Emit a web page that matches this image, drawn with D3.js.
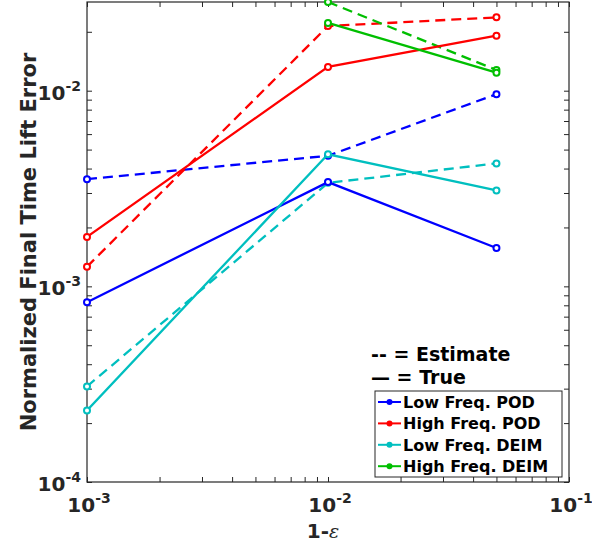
<!DOCTYPE html>
<html><head><meta charset="utf-8">
<script src="https://cdn.jsdelivr.net/npm/d3@7"></script>
<style>body{margin:0;background:#fff}svg{display:block}text{font-family:"DejaVu Sans",sans-serif}</style>
</head><body><svg id="c" width="592" height="546"></svg>
<script>
const xValues = [0.001, 0.01, 0.05];
const seriesNames = ["Low Freq. POD", "High Freq. POD", "Low Freq. DEIM", "High Freq. DEIM"];
const seriesColors = ["#0000ff", "#ff0000", "#00bfbf", "#00bf00"];
const trueValues = [
  [8.3e-4, 3.41e-3, 1.57e-3],
  [1.79e-3, 0.01323, 0.0191],
  [2.32e-4, 4.73e-3, 3.09e-3],
  [null, 0.0222, 0.01236]
];
const estimateValues = [
  [3.53e-3, 4.65e-3, 9.6e-3],
  [1.26e-3, 0.0214, 0.0237],
  [3.08e-4, 3.38e-3, 4.25e-3],
  [null, 0.0284, 0.01276]
];
const xTickExps = [-3, -2, -1];
const yTickExps = [-4, -3, -2];
const xDomain = [1e-3, 1e-1];
const yDomain = [1e-4, 0.0284];

const svg = d3.select("#c");
const L = 87, R = 569, T = 2, B = 482;
const x = d3.scaleLog().domain(xDomain).range([L, R]);
const y = d3.scaleLog().domain(yDomain).range([B, T]);
const axisColor = "#262626";

svg.append("defs").append("clipPath").attr("id", "clip")
  .append("rect").attr("x", L).attr("y", T).attr("width", R - L).attr("height", B - T);

function minorTicks(domain) {
  const out = [];
  const lo = Math.floor(Math.log10(domain[0])), hi = Math.ceil(Math.log10(domain[1]));
  for (let e = lo; e <= hi; e++) for (let m = 1; m <= 9; m++) {
    const v = m * Math.pow(10, e);
    if (v >= domain[0] * 0.9999 && v <= domain[1] * 1.0001) out.push(v);
  }
  return out;
}
const xt = minorTicks(xDomain), yt = minorTicks(yDomain);
const tickLen = 5;
const g = svg.append("g");
g.append("g").attr("transform", `translate(0,${B})`)
  .call(d3.axisBottom(x).tickValues(xt).tickSizeInner(-tickLen).tickSizeOuter(0).tickFormat(""));
g.append("g").attr("transform", `translate(0,${T})`)
  .call(d3.axisTop(x).tickValues(xt).tickSizeInner(-tickLen).tickSizeOuter(0).tickFormat(""));
g.append("g").attr("transform", `translate(${L},0)`)
  .call(d3.axisLeft(y).tickValues(yt).tickSizeInner(-tickLen).tickSizeOuter(0).tickFormat(""));
g.append("g").attr("transform", `translate(${R},0)`)
  .call(d3.axisRight(y).tickValues(yt).tickSizeInner(-tickLen).tickSizeOuter(0).tickFormat(""));
g.selectAll(".domain").remove();
g.selectAll("line").attr("stroke", axisColor).attr("stroke-width", 1);
svg.append("rect").attr("x", L).attr("y", T).attr("width", R - L).attr("height", B - T)
  .attr("fill", "none").attr("stroke", axisColor).attr("stroke-width", 1.2);

function powLabel(sel, e) {
  sel.append("tspan").text("10");
  sel.append("tspan").attr("dy", -9).attr("font-size", 14).text(String(e));
}
xTickExps.forEach(e => {
  const t = svg.append("text").attr("x", x(Math.pow(10, e)) + 2).attr("y", 512)
    .attr("text-anchor", "middle").attr("font-size", 20).attr("font-weight", "bold").attr("fill", axisColor);
  powLabel(t, e);
});
yTickExps.forEach(e => {
  const t = svg.append("text").attr("x", 81).attr("y", y(Math.pow(10, e)) + 9)
    .attr("text-anchor", "end").attr("font-size", 20).attr("font-weight", "bold").attr("fill", axisColor);
  powLabel(t, e);
});

svg.append("text").attr("transform", `translate(36,${(T + B) / 2}) rotate(-90)`)
  .attr("text-anchor", "middle").attr("font-size", 21).attr("font-weight", "bold").attr("fill", axisColor)
  .text("Normalized Final Time Lift Error");
const xl = svg.append("text").attr("x", 323).attr("y", 538).attr("text-anchor", "middle")
  .attr("font-size", 20).attr("fill", axisColor);
xl.append("tspan").attr("font-weight", "bold").text("1-");
xl.append("tspan").attr("font-style", "italic").attr("font-family", "DejaVu Serif").attr("font-size", 19).text("ε");

const plot = svg.append("g");
const line = d3.line().defined(d => d[1] != null).x(d => x(d[0])).y(d => y(d[1]));
function drawSeries(vals, color, dashed) {
  const pts = xValues.map((xv, i) => [xv, vals[i]]);
  plot.append("path").datum(pts).attr("d", line).attr("fill", "none").attr("stroke", color)
    .attr("clip-path", "url(#clip)")
    .attr("stroke-width", 2.3).attr("stroke-dasharray", dashed ? "10,6" : null);
  plot.selectAll(null).data(pts.filter(d => d[1] != null)).enter().append("circle")
    .attr("cx", d => x(d[0])).attr("cy", d => y(d[1])).attr("r", 3)
    .attr("fill", "#fff").attr("stroke", color).attr("stroke-width", 2);
}
seriesNames.forEach((n, i) => drawSeries(estimateValues[i], seriesColors[i], true));
seriesNames.forEach((n, i) => drawSeries(trueValues[i], seriesColors[i], false));

svg.append("text").attr("x", 371).attr("y", 361).attr("font-size", 19).attr("font-weight", "bold").attr("fill", "#000").text("-- = Estimate");
svg.append("text").attr("x", 371).attr("y", 384).attr("font-size", 19).attr("font-weight", "bold").attr("fill", "#000").text("\u2014 = True");

const lg = svg.append("g");
lg.append("rect").attr("x", 375).attr("y", 391).attr("width", 187).attr("height", 86)
  .attr("fill", "#fff").attr("stroke", axisColor).attr("stroke-width", 1);
seriesNames.forEach((n, i) => {
  const yy = 402 + i * 21.4;
  lg.append("line").attr("x1", 378).attr("x2", 401).attr("y1", yy).attr("y2", yy)
    .attr("stroke", seriesColors[i]).attr("stroke-width", 2);
  lg.append("circle").attr("cx", 389.5).attr("cy", yy).attr("r", 3).attr("fill", seriesColors[i]);
  lg.append("text").attr("x", 403).attr("y", yy + 6).attr("font-size", 16).attr("font-weight", "bold")
    .attr("fill", "#000").text(n);
});
</script></body></html>
